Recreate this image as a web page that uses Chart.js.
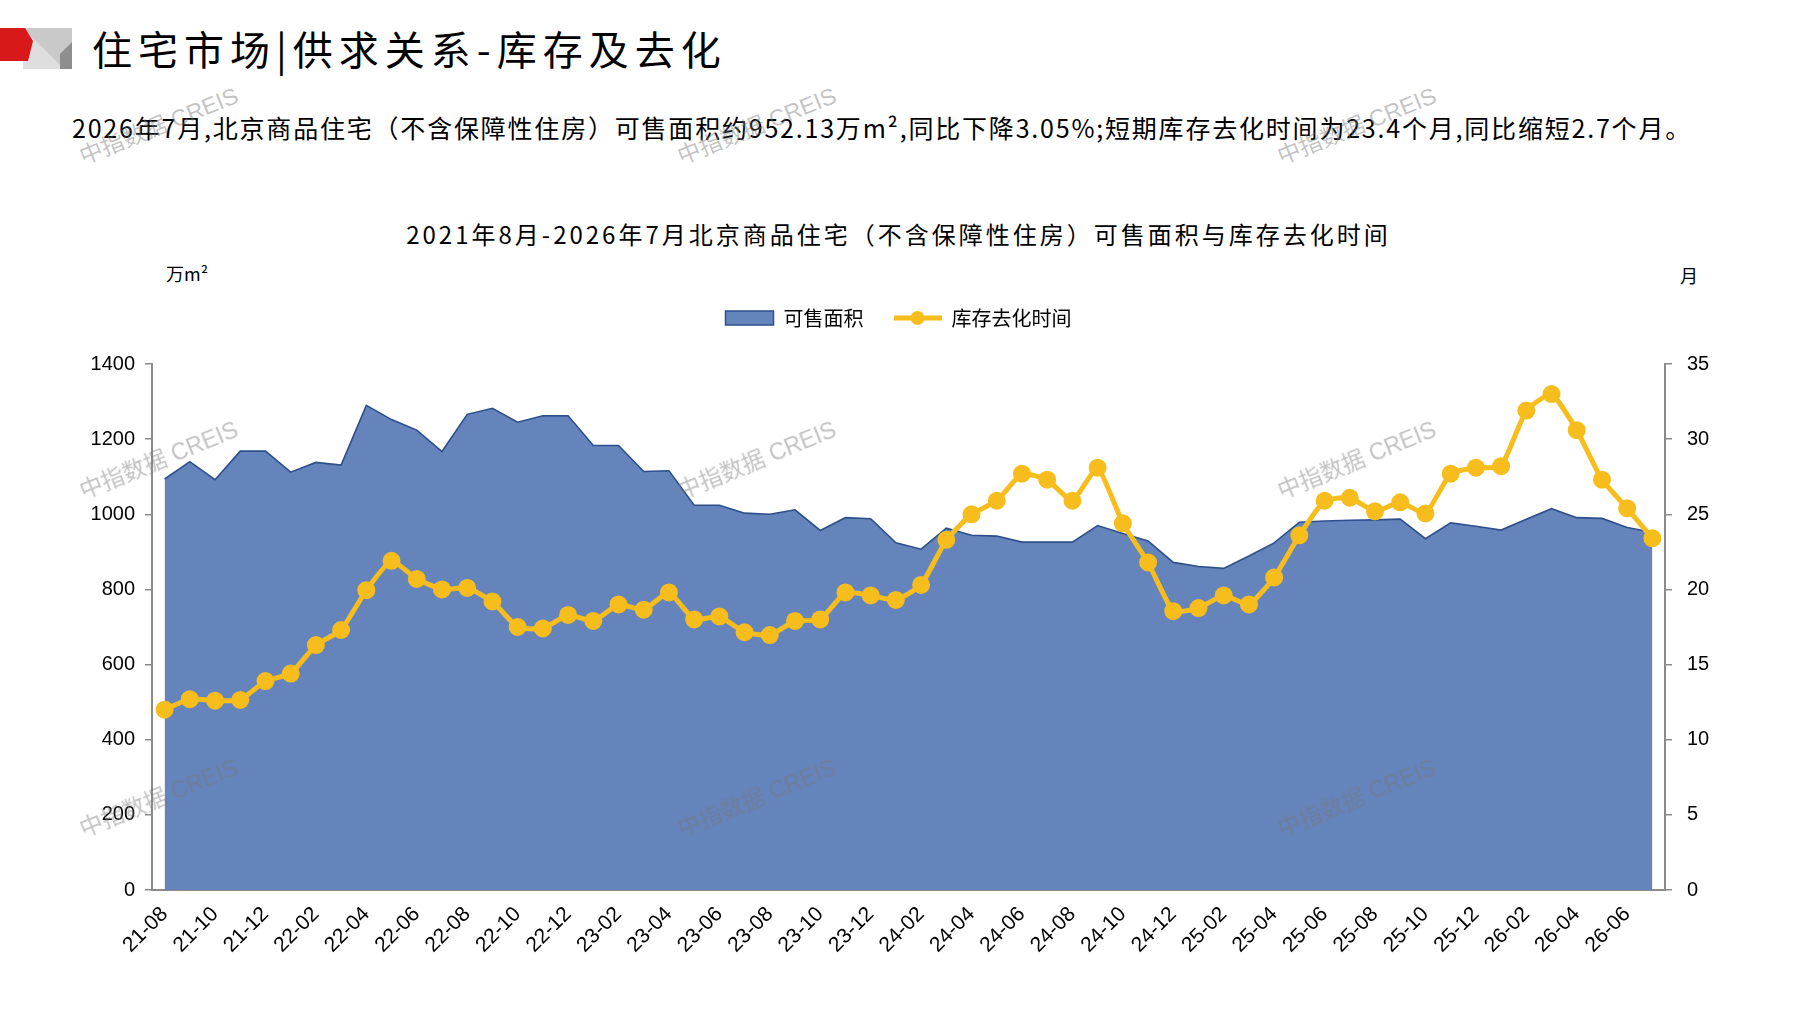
<!DOCTYPE html>
<html lang="zh-CN">
<head>
<meta charset="utf-8">
<title>北京商品住宅可售面积与库存去化时间</title>
<script src="https://cdn.jsdelivr.net/npm/chart.js@4.4.1/dist/chart.umd.min.js"></script>
<style>
  html, body { margin: 0; padding: 0; background: #fff; }
  body { width: 1797px; height: 1010px; position: relative; overflow: hidden; font-family: "Noto Sans CJK SC", sans-serif; color: #000; }
  .abs { position: absolute; white-space: nowrap; }
  #logo { left: 0; top: 28px; }
  #head { left: 92px; top: 20px; font-size: 40px; letter-spacing: 6px; line-height: 56px; }
  #sub { left: 72px; top: 110px; font-size: 25px; letter-spacing: 1.8px; line-height: 34px; }
  #ctitle { left: 0; width: 1797px; text-align: center; top: 218px; font-size: 24px; letter-spacing: 3px; line-height: 32px; }
  #unitL { left: 166px; top: 261px; font-size: 18px; line-height: 24px; }
  #unitR { left: 1680px; top: 263px; font-size: 18px; line-height: 24px; }
  #wrap { left: 0; top: 278px; width: 1797px; height: 692px; }
  .wm { position: absolute; color: rgba(120,120,120,0.45); font-family: "Liberation Sans", "Noto Sans CJK SC", sans-serif; font-size: 23px;
        transform: translate(-50%, -50%) rotate(-22deg); white-space: nowrap; z-index: 5; pointer-events: none; }
</style>
</head>
<body>
<svg id="logo" class="abs" width="74" height="42" viewBox="0 0 74 42">
  <polygon points="23,0 72,0 72,41 23,41" fill="#c9c9c9"/>
  <polygon points="23,0 64,41 23,41" fill="#dedede"/>
  <polygon points="72,14 72,41 60,41 60,26" fill="#8e8e8e"/>
  <polygon points="0,0 25,0 33,13 28,33 0,33" fill="#d7191c"/>
</svg>
<div id="head" class="abs">住宅市场|供求关系-库存及去化</div>
<div id="sub" class="abs">2026年7月,北京商品住宅（不含保障性住房）可售面积约952.13万m²,同比下降3.05%;短期库存去化时间为23.4个月,同比缩短2.7个月。</div>
<div id="ctitle" class="abs">2021年8月-2026年7月北京商品住宅（不含保障性住房）可售面积与库存去化时间</div>
<div id="unitL" class="abs">万m²</div>
<div id="unitR" class="abs">月</div>
<div id="wrap" class="abs"><canvas id="myChart" width="1797" height="692"></canvas></div>

<div class="wm" style="left:158px;top:124px">中指数据 CREIS</div>
<div class="wm" style="left:756px;top:124px">中指数据 CREIS</div>
<div class="wm" style="left:1356px;top:124px">中指数据 CREIS</div>
<div class="wm" style="left:158px;top:458px">中指数据 CREIS</div>
<div class="wm" style="left:756px;top:458px">中指数据 CREIS</div>
<div class="wm" style="left:1356px;top:458px">中指数据 CREIS</div>
<div class="wm" style="left:158px;top:796px">中指数据 CREIS</div>
<div class="wm" style="left:756px;top:796px">中指数据 CREIS</div>
<div class="wm" style="left:1356px;top:796px">中指数据 CREIS</div>

<script>
// months shown on the x axis
const months = [
  "21-08", "21-09", "21-10", "21-11", "21-12",
  "22-01", "22-02", "22-03", "22-04", "22-05", "22-06", "22-07", "22-08", "22-09", "22-10", "22-11", "22-12",
  "23-01", "23-02", "23-03", "23-04", "23-05", "23-06", "23-07", "23-08", "23-09", "23-10", "23-11", "23-12",
  "24-01", "24-02", "24-03", "24-04", "24-05", "24-06", "24-07", "24-08", "24-09", "24-10", "24-11", "24-12",
  "25-01", "25-02", "25-03", "25-04", "25-05", "25-06", "25-07", "25-08", "25-09", "25-10", "25-11", "25-12",
  "26-01", "26-02", "26-03", "26-04", "26-05", "26-06", "26-07"
];

// 可售面积 (万m²)
const saleableArea = [
  1094, 1140, 1092, 1168, 1168,
  1112, 1138, 1131, 1290, 1252, 1224, 1167, 1266, 1282, 1245, 1262, 1262,
  1183, 1183, 1114, 1116, 1024, 1024, 1003, 1000, 1012, 957, 991, 988,
  924, 907, 963, 944, 942, 926, 926, 926, 970, 949, 929, 872,
  861, 856, 889, 924, 979, 982, 984, 985, 987, 935, 977, 968,
  958, 987, 1015, 991, 989, 965, 952
];

// 库存去化时间 (月)
const clearanceMonths = [
  12.0, 12.7, 12.6, 12.65, 13.9,
  14.4, 16.3, 17.3, 19.95, 21.9, 20.7, 20.0, 20.1, 19.2, 17.5, 17.4, 18.3,
  17.9, 19.0, 18.65, 19.8, 18.0, 18.2, 17.15, 16.96, 17.9, 18.0, 19.8, 19.6,
  19.3, 20.3, 23.3, 25.0, 25.9, 27.7, 27.3, 25.9, 28.1, 24.4, 21.8, 18.55,
  18.76, 19.6, 19.0, 20.8, 23.6, 25.9, 26.1, 25.2, 25.8, 25.06, 27.7, 28.1,
  28.2, 31.9, 33.0, 30.6, 27.3, 25.4, 23.4
];

const leftTicks = [0, 200, 400, 600, 800, 1000, 1200, 1400];
const rightTicks = [0, 5, 10, 15, 20, 25, 30, 35];
const seriesNames = ["可售面积", "库存去化时间"];

const areaFill = "#6584bc";
const areaEdge = "#2d4f8c";
const gold = "#f7bd1c";
const axisGray = "#8a8a8a";

// little line-with-dot symbol for the legend
const lineSymbol = document.createElement("canvas");
lineSymbol.width = 48;
lineSymbol.height = 16;
const sctx = lineSymbol.getContext("2d");
sctx.strokeStyle = gold;
sctx.lineWidth = 5;
sctx.beginPath(); sctx.moveTo(0, 8); sctx.lineTo(48, 8); sctx.stroke();
sctx.fillStyle = gold;
sctx.beginPath(); sctx.arc(24, 8, 7, 0, Math.PI * 2); sctx.fill();

// push the plot down a bit below the legend
const legendGap = {
  id: "legendGap",
  beforeInit(chart) {
    const fit = chart.legend.fit;
    chart.legend.fit = function () {
      fit.bind(chart.legend)();
      this.height += 26;
    };
  }
};

const ctx = document.getElementById("myChart").getContext("2d");

const myChart = new Chart(ctx, {
  type: "line",
  data: {
    labels: months,
    datasets: [
      {
        label: seriesNames[0],
        data: saleableArea,
        yAxisID: "y",
        fill: "origin",
        backgroundColor: areaFill,
        borderColor: areaEdge,
        borderWidth: 1.6,
        pointRadius: 0,
        tension: 0,
        order: 2
      },
      {
        label: seriesNames[1],
        data: clearanceMonths,
        yAxisID: "y1",
        fill: false,
        borderColor: gold,
        backgroundColor: gold,
        borderWidth: 5,
        pointRadius: 6.5,
        pointBackgroundColor: gold,
        pointBorderColor: gold,
        tension: 0.15,
        order: 1
      }
    ]
  },
  options: {
    responsive: false,
    animation: false,
    layout: { padding: { left: 0, right: 0, top: 0, bottom: 0 } },
    plugins: {
      tooltip: { enabled: false },
      title: { display: false },
      legend: {
        display: true,
        position: "top",
        labels: {
          usePointStyle: true,
          pointStyleWidth: 48,
          boxHeight: 14,
          padding: 30,
          color: "#000",
          font: { family: "'Noto Sans CJK SC'", size: 20 },
          generateLabels: function (chart) {
            return [
              { text: seriesNames[0], fillStyle: areaFill, strokeStyle: areaEdge, lineWidth: 1.5, pointStyle: "rect", hidden: false, datasetIndex: 0, fontColor: "#000" },
              { text: seriesNames[1], fillStyle: gold, strokeStyle: gold, lineWidth: 0, pointStyle: lineSymbol, hidden: false, datasetIndex: 1, fontColor: "#000" }
            ];
          }
        }
      }
    },
    scales: {
      x: {
        offset: true,
        grid: { display: false },
        border: { display: true, color: axisGray, width: 2 },
        ticks: {
          autoSkip: false,
          minRotation: 45,
          maxRotation: 45,
          padding: 4,
          color: "#000",
          font: { family: "'Liberation Sans'", size: 21 },
          callback: function (value, index) {
            return index % 2 === 0 ? this.getLabelForValue(value) : "";
          }
        },
        afterFit: function (scale) { scale.height = 80; }
      },
      y: {
        position: "left",
        min: leftTicks[0],
        max: leftTicks[leftTicks.length - 1],
        grid: { drawOnChartArea: false, drawTicks: true, tickLength: 7, color: axisGray, lineWidth: 1.5 },
        border: { display: true, color: axisGray, width: 2 },
        ticks: {
          stepSize: leftTicks[1] - leftTicks[0],
          padding: 10,
          color: "#000",
          font: { family: "'Liberation Sans'", size: 20 },
          callback: function (value) { return String(value); }
        },
        afterFit: function (scale) { scale.width = 152; }
      },
      y1: {
        position: "right",
        min: rightTicks[0],
        max: rightTicks[rightTicks.length - 1],
        grid: { drawOnChartArea: false, drawTicks: true, tickLength: 7, color: axisGray, lineWidth: 1.5 },
        border: { display: true, color: axisGray, width: 2 },
        ticks: {
          stepSize: rightTicks[1] - rightTicks[0],
          padding: 15,
          color: "#000",
          font: { family: "'Liberation Sans'", size: 20 },
          callback: function (value) { return String(value); }
        },
        afterFit: function (scale) { scale.width = 132; }
      }
    }
  },
  plugins: [legendGap]
});
</script>
</body>
</html>
